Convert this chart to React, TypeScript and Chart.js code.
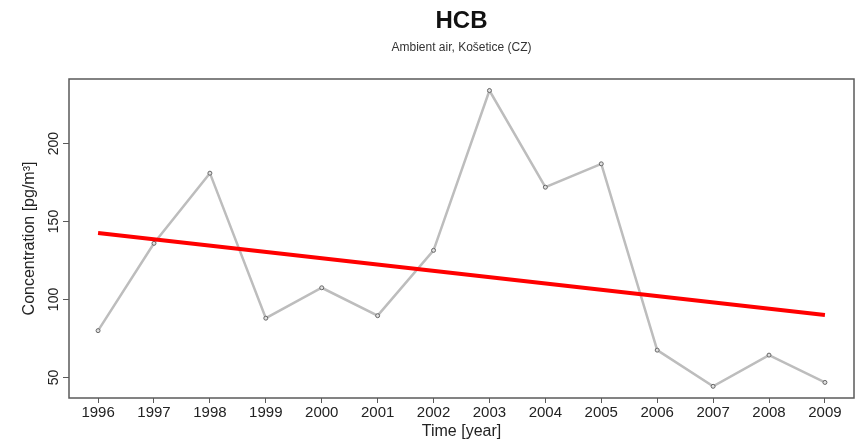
import { useEffect, useRef } from 'react';
import { Chart, registerables } from 'chart.js';

Chart.register(...registerables);

// Yearly HCB concentrations in ambient air at Košetice
const years = [1996, 1997, 1998, 1999, 2000, 2001, 2002, 2003, 2004, 2005, 2006, 2007, 2008, 2009];
const concentration = [80, 136, 181, 88, 107.5, 89.6, 131.5, 234, 172, 187, 67.5, 44.3, 64.3, 46.8];

// Linear trend end points
const trendYears = [1996, 2009];
const trendValues = [142.6, 90.0];

const yTicks = [50, 100, 150, 200];

const titleText = 'HCB';
const subtitleText = 'Ambient air, Košetice (CZ)';
const xTitle = 'Time [year]';
const yTitle = 'Concentration [pg/m³]';

const FONT = '"Liberation Sans", Arial, sans-serif';

const framePlugin = {
  id: 'frameAndTitles',
  afterDraw(chart: any) {
    const { ctx, chartArea } = chart;
    const { left, right, top, bottom } = chartArea;
    ctx.save();
    // plot box
    ctx.strokeStyle = '#5a5a5a';
    ctx.lineWidth = 1.5;
    ctx.strokeRect(left, top, right - left, bottom - top);

    // rotated y tick labels
    const yScale = chart.scales.y;
    ctx.fillStyle = '#222';
    ctx.font = `14px ${FONT}`;
    ctx.textAlign = 'center';
    ctx.textBaseline = 'middle';
    yScale.ticks.forEach((t: any) => {
      const py = yScale.getPixelForValue(t.value);
      ctx.save();
      ctx.translate(left - 15, py);
      ctx.rotate(-Math.PI / 2);
      ctx.fillText(String(t.value), 0, 0);
      ctx.restore();
    });

    // title and subtitle
    const cx = (left + right) / 2;
    ctx.fillStyle = '#111';
    ctx.font = `bold 24px ${FONT}`;
    ctx.fillText(titleText, cx, 21);
    ctx.fillStyle = '#333';
    ctx.font = `12px ${FONT}`;
    ctx.fillText(subtitleText, cx, 48);
    ctx.restore();
  },
};

export default function App() {
  const canvasRef = useRef<HTMLCanvasElement | null>(null);

  useEffect(() => {
    if (!canvasRef.current) return;
    const chart = new Chart(canvasRef.current, {
      type: 'scatter',
      data: {
        datasets: [
          {
            label: 'trend',
            data: trendYears.map((x, i) => ({ x, y: trendValues[i] })),
            showLine: true,
            borderColor: '#ff0000',
            borderWidth: 4,
            pointRadius: 0,
          },
          {
            label: 'HCB',
            data: years.map((x, i) => ({ x, y: concentration[i] })),
            showLine: true,
            borderColor: '#bdbdbd',
            borderWidth: 2.5,
            pointRadius: 2,
            pointBorderWidth: 1,
            pointBorderColor: '#666',
            pointBackgroundColor: '#e0e0e0',
          },
        ],
      },
      options: {
        responsive: false,
        animation: false,
        devicePixelRatio: 1,
        layout: { padding: { left: 0, top: 79, right: 4, bottom: 0 } },
        plugins: {
          legend: { display: false },
          tooltip: { enabled: false },
          title: { display: false },
        },
        scales: {
          x: {
            type: 'linear',
            min: 1995.48,
            max: 2009.52,
            afterBuildTicks: (s: any) => {
              s.ticks = years.map((v) => ({ value: v }));
            },
            afterFit: (s: any) => {
              s.height = 43;
            },
            border: { display: false },
            grid: { drawOnChartArea: false, drawTicks: true, tickLength: 5, color: '#5a5a5a', lineWidth: 1 },
            ticks: {
              padding: 1,
              color: '#222',
              font: { family: FONT, size: 15 },
              maxRotation: 0,
              minRotation: 0,
              autoSkip: false,
              callback: (v: any) => String(v),
            },
            title: {
              display: true,
              text: xTitle,
              color: '#222',
              font: { family: FONT, size: 16 },
              padding: { top: 0, bottom: 0 },
            },
          },
          y: {
            type: 'linear',
            min: 36.8,
            max: 241.4,
            afterBuildTicks: (s: any) => {
              s.ticks = yTicks.map((v) => ({ value: v }));
            },
            afterFit: (s: any) => {
              s.width = 69;
            },
            border: { display: false },
            grid: { drawOnChartArea: false, drawTicks: true, tickLength: 6, color: '#5a5a5a', lineWidth: 1 },
            ticks: { display: false },
            title: {
              display: true,
              text: yTitle,
              color: '#222',
              font: { family: FONT, size: 16 },
              padding: { top: 20, bottom: 0 },
            },
          },
        },
      },
      plugins: [framePlugin],
    });
    return () => chart.destroy();
  }, []);

  return (
    <div style={{ position: 'absolute', left: 0, top: 0, width: 859, height: 441, background: '#fff' }}>
      <canvas ref={canvasRef} width={859} height={441} />
    </div>
  );
}
